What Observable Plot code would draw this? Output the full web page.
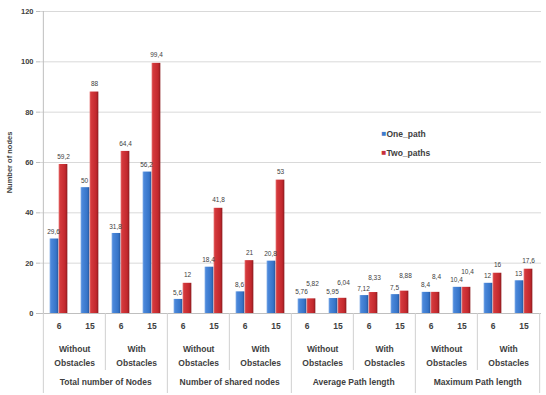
<!DOCTYPE html>
<html><head><meta charset="utf-8">
<script src="https://cdn.jsdelivr.net/npm/d3@7"></script>
<script src="https://cdn.jsdelivr.net/npm/@observablehq/plot@0.6"></script>
<style>body{margin:0;background:#fff}#chart{width:546px;height:395px}</style>
</head><body><div id="chart"></div>
<script>
const metrics = ["Total number of Nodes", "Number of shared nodes", "Average Path length", "Maximum Path length"];
const conditions = ["Without\nObstacles", "With\nObstacles"];
const sizes = ["6", "15"];
const series = ["One_path", "Two_paths"];
const onePath = [29.6, 50, 31.8, 56.2, 5.6, 18.4, 8.6, 20.8, 5.76, 5.95, 7.12, 7.5, 8.4, 10.4, 12, 13];
const twoPaths = [59.2, 88, 64.4, 99.4, 12, 41.8, 21, 53, 5.82, 6.04, 8.33, 8.88, 8.4, 10.4, 16, 17.6];
const yTicks = [0, 20, 40, 60, 80, 100, 120];

const W = 546, H = 395, ML = 40, MR = 5, MT = 11, MB = 82;
const slots = d3.range(16).map(String);
const rows = [];
slots.forEach((s, i) => {
  rows.push({slot: s, series: series[0], value: onePath[i], other: twoPaths[i]});
  rows.push({slot: s, series: series[1], value: twoPaths[i], other: onePath[i]});
});
const bw = (W - ML - MR) / slots.length;
const barW = 9;
const fmt = v => String(v).replace(".", ",");
const blueRows = rows.filter(d => d.series === series[0]);
const redRows = rows.filter(d => d.series === series[1]);
const redClose = redRows.filter(d => d.value - d.other < 2);
const redFar = redRows.filter(d => d.value - d.other >= 2);
const condSlots = slots.filter((s, i) => i % 2 === 0);
const metricSlots = slots.filter((s, i) => i % 4 === 1);
const shortSep = slots.filter((s, i) => i % 4 === 2);
const longSep = slots.filter((s, i) => i % 4 === 0);
const plotH = H - MT - MB;
const txt = "#404040";

const defs = () => {
  const d = d3.create("svg:defs");
  const g1 = d.append("linearGradient").attr("id", "gBlue").attr("x1", 0).attr("x2", 1).attr("y1", 0).attr("y2", 0);
  [[0, "#7aa8e6"], [0.18, "#4a87da"], [0.75, "#3674c8"], [1, "#25569c"]].forEach(([o, c]) => g1.append("stop").attr("offset", o).attr("stop-color", c));
  const g2 = d.append("linearGradient").attr("id", "gRed").attr("x1", 0).attr("x2", 1).attr("y1", 0).attr("y2", 0);
  [[0, "#e46a6a"], [0.18, "#d4393c"], [0.75, "#c2282d"], [1, "#8a1a1e"]].forEach(([o, c]) => g2.append("stop").attr("offset", o).attr("stop-color", c));
  return d.node();
};

const catText = {frameAnchor: "bottom", lineAnchor: "middle", fontWeight: "bold", fontSize: 8.5, fill: txt};

const plot = Plot.plot({
  width: W, height: H,
  marginLeft: ML, marginRight: MR, marginTop: MT, marginBottom: MB,
  style: {fontFamily: "Liberation Sans, Arial, sans-serif", fontSize: "8px", color: txt, background: "#fff"},
  x: {domain: slots, padding: 0, axis: null},
  y: {domain: [0, 120], axis: null},
  marks: [
    defs,
    Plot.gridY(yTicks, {stroke: "#d9d9d9", strokeOpacity: 1}),
    Plot.axisY(yTicks, {tickSize: 4, tickPadding: 3, stroke: "#bfbfbf", fontWeight: "bold", fontSize: 7.5,
      label: "Number of nodes", labelAnchor: "center", labelArrow: "none", labelOffset: 34}),
    Plot.ruleX([slots[0]], {dx: -bw / 2, stroke: "#bfbfbf"}),
    Plot.barY(blueRows, {x: "slot", y: "value", fill: "url(#gBlue)", insetLeft: bw / 2 - barW, insetRight: bw / 2}),
    Plot.barY(redRows, {x: "slot", y: "value", fill: "url(#gRed)", insetLeft: bw / 2, insetRight: bw / 2 - barW}),
    Plot.ruleY([0], {stroke: "#bfbfbf"}),
    Plot.text(blueRows, {x: "slot", y: "value", text: d => fmt(d.value), dx: -barW / 2 - 1, dy: -7, fontSize: 6.5, fill: txt}),
    Plot.text(redFar, {x: "slot", y: "value", text: d => fmt(d.value), dx: barW / 2, dy: -8, fontSize: 6.5, fill: txt}),
    Plot.text(redClose, {x: "slot", y: "value", text: d => fmt(d.value), dx: barW / 2 + 1, dy: -15, fontSize: 6.5, fill: txt}),
    // category axis
    Plot.text(slots, {...catText, x: d => d, text: d => sizes[+d % 2], dy: 13}),
    Plot.text(condSlots, {...catText, x: d => d, text: d => conditions[(+d / 2) % 2], dx: bw / 2, dy: 41, lineHeight: 1.6}),
    Plot.text(metricSlots, {...catText, x: d => d, text: d => metrics[Math.floor(+d / 4)], dx: bw / 2, dy: 69}),
    Plot.ruleX(shortSep, {x: d => d, dx: -bw / 2, insetTop: plotH, insetBottom: -57, stroke: "#d0d0d0"}),
    Plot.ruleX(longSep, {x: d => d, dx: -bw / 2, insetTop: plotH, insetBottom: -80, stroke: "#d0d0d0"}),
    Plot.ruleX([slots[slots.length - 1]], {x: d => d, dx: bw / 2, insetTop: plotH, insetBottom: -80, stroke: "#d0d0d0"}),
    // legend
    Plot.text([series[0]], {text: () => "■", frameAnchor: "top-left", dx: 341, dy: 119, fill: "#3f7bcc", fontSize: 8}),
    Plot.text([series[1]], {text: () => "■", frameAnchor: "top-left", dx: 341, dy: 138, fill: "#c8303a", fontSize: 8}),
    Plot.text([series[0]], {text: d => d, frameAnchor: "top-left", textAnchor: "start", dx: 346, dy: 119, fontWeight: "bold", fontSize: 8.5, fill: txt}),
    Plot.text([series[1]], {text: d => d, frameAnchor: "top-left", textAnchor: "start", dx: 346, dy: 138, fontWeight: "bold", fontSize: 8.5, fill: txt})
  ]
});
document.getElementById("chart").append(plot);
</script>
</body></html>
